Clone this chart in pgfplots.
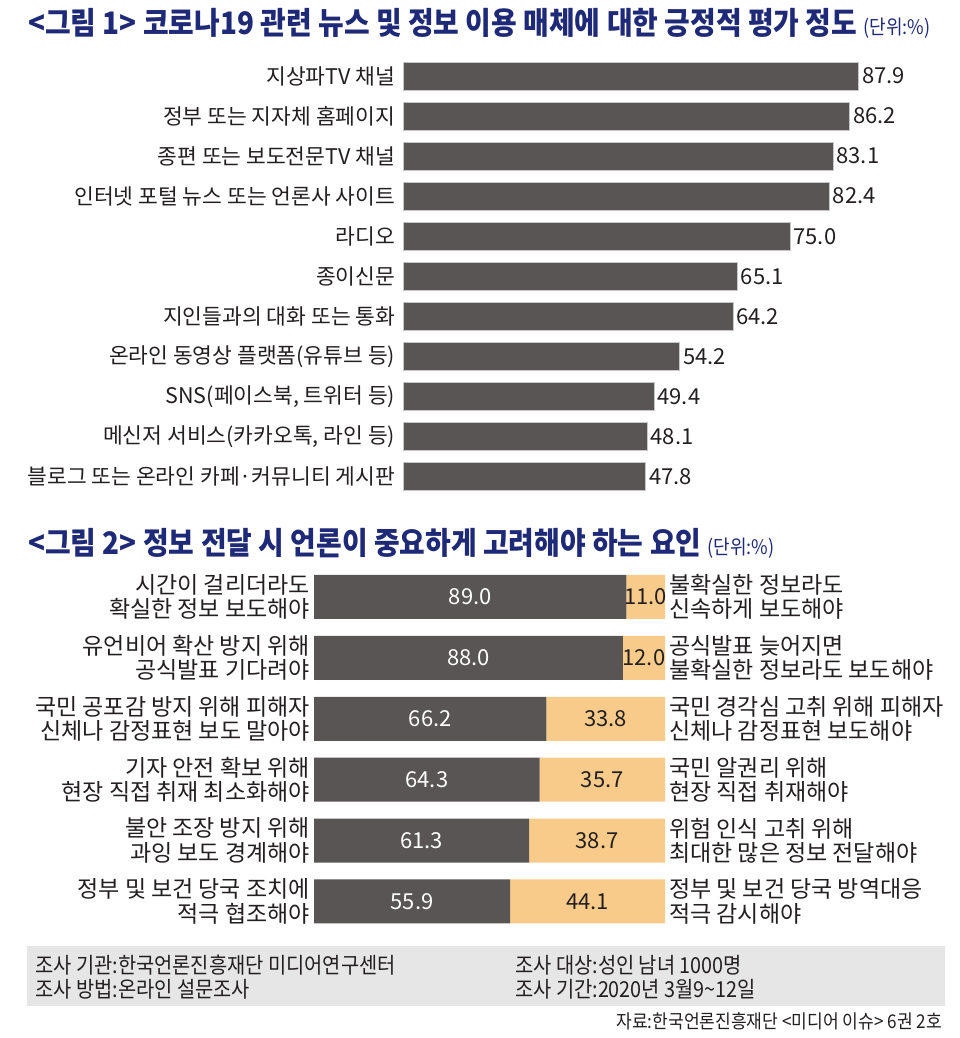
\documentclass[border=0pt]{standalone}
\usepackage{pgfplots}
\usepackage{pgfplotstable}
\pgfplotsset{compat=1.18}
\usepackage{fontspec}
\setmainfont{Noto Sans CJK KR}
\newfontfamily\condfont[FakeStretch=0.9]{Noto Sans CJK KR}
\definecolor{navy}{HTML}{1E2A78}
\definecolor{darkbar}{HTML}{595555}
\definecolor{peach}{HTML}{F8CB8B}
\definecolor{boxgray}{HTML}{E6E6E6}
\definecolor{txt}{HTML}{231F20}

\pgfplotstableread{
i v
1 87.9
2 86.2
3 83.1
4 82.4
5 75.0
6 65.1
7 64.2
8 54.2
9 49.4
10 48.1
11 47.8
}\chartone

\pgfplotstableread{
i a b
1 89.0 11.0
2 88.0 12.0
3 66.2 33.8
4 64.3 35.7
5 61.3 38.7
6 55.9 44.1
}\charttwo

\begin{document}
\begin{tikzpicture}[x=1pt,y=1pt]
\path (0,0) rectangle (960,1038);

% Title 1
\node[anchor=base west, inner sep=0pt, text=navy] at (28,1003)
  {\condfont\bfseries\fontsize{31}{33}\selectfont <그림 1> 코로나19 관련 뉴스 및 정보 이용 매체에 대한 긍정적 평가 정도 {\mdseries\fontsize{20}{22}\selectfont (단위:\%)}};

\begin{axis}[
  at={(403pt,982pt)}, anchor=north west,
  scale only axis, width=520pt, height=440.5pt,
  xbar, bar width=28pt,
  xmin=2.1, xmax=100, ymin=0.5, ymax=11.5, y dir=reverse,
  axis line style={draw=none}, tick style={draw=none}, xtick=\empty,
  ytick={1,...,11},
  yticklabels={지상파TV 채널, 정부 또는 지자체 홈페이지, 종편 또는 보도전문TV 채널, 인터넷 포털 뉴스 또는 언론사 사이트, 라디오, 종이신문, 지인들과의 대화 또는 통화, 온라인 동영상 플랫폼(유튜브 등), {SNS(페이스북, 트위터 등)}, {메신저 서비스(카카오톡, 라인 등)}, 블로그 또는 온라인 카페·커뮤니티 게시판},
  yticklabel style={font=\fontsize{21.5}{23}\selectfont, text=txt},
  nodes near coords, point meta=explicit symbolic,
  nodes near coords style={anchor=west, font=\fontsize{22}{24}\selectfont, text=txt, inner sep=0pt, xshift=3pt},
]
\addplot[fill=darkbar, draw=black!22, line width=0.6pt] table[x=v, y=i, meta=v] {\chartone};
\end{axis}

% Title 2
\node[anchor=base west, inner sep=0pt, text=navy] at (28,483)
  {\condfont\bfseries\fontsize{31}{33}\selectfont <그림 2> 정보 전달 시 언론이 중요하게 고려해야 하는 요인 {\mdseries\fontsize{20}{22}\selectfont (단위:\%)}};

\begin{axis}[
  at={(314pt,471.45pt)}, anchor=north west,
  scale only axis, width=351pt, height=365.4pt,
  xbar stacked, bar width=44pt,
  xmin=0, xmax=100, ymin=0.5, ymax=6.5, y dir=reverse,
  axis line style={draw=none}, tick style={draw=none}, xtick=\empty,
  ytick={1,...,6},
  yticklabels={{시간이 걸리더라도\\확실한 정보 보도해야}, {유언비어 확산 방지 위해\\공식발표 기다려야}, {국민 공포감 방지 위해 피해자\\신체나 감정표현 보도 말아야}, {기자 안전 확보 위해\\현장 직접 취재 최소화해야}, {불안 조장 방지 위해\\과잉 보도 경계해야}, {정부 및 보건 당국 조치에\\적극 협조해야}},
  yticklabel style={font=\fontsize{23}{24.5}\selectfont, text=txt, align=right, inner sep=0pt, xshift=-4pt},
]
\addplot[fill=darkbar, draw=none] table[x=a, y=i] {\charttwo};
\addplot[fill=peach, draw=none] table[x=b, y=i] {\charttwo};
\end{axis}

\begin{axis}[
  at={(314pt,471.45pt)}, anchor=north west,
  scale only axis, width=351pt, height=365.4pt,
  xmin=0, xmax=100, ymin=0.5, ymax=6.5, y dir=reverse,
  axis line style={draw=none}, tick style={draw=none}, xtick=\empty,
  yticklabel pos=right,
  ytick={1,...,6},
  yticklabels={{불확실한 정보라도\\신속하게 보도해야}, {공식발표 늦어지면\\불확실한 정보라도 보도해야}, {국민 경각심 고취 위해 피해자\\신체나 감정표현 보도해야}, {국민 알권리 위해\\현장 직접 취재해야}, {위험 인식 고취 위해\\최대한 많은 정보 전달해야}, {정부 및 보건 당국 방역대응\\적극 감시해야}},
  yticklabel style={font=\fontsize{23}{24.5}\selectfont, text=txt, align=left, inner sep=0pt, xshift=4pt},
  clip=false,
]
\addplot[draw=none, mark=none, nodes near coords, point meta=explicit symbolic,
  nodes near coords style={anchor=center, inner sep=0pt, text=white, font=\fontsize{22}{24}\selectfont}]
  table[x expr=\thisrow{a}/2, y=i, meta=a] {\charttwo};
\addplot[draw=none, mark=none, nodes near coords, point meta=explicit symbolic,
  nodes near coords style={anchor=center, inner sep=0pt, text=txt, font=\fontsize{22}{24}\selectfont}]
  table[x expr=\thisrow{a}+\thisrow{b}/2, y=i, meta=b] {\charttwo};
\end{axis}

% Footer
\fill[boxgray] (27,32) rectangle (945,92);
\begin{scope}[every node/.style={anchor=base west, inner sep=0pt, text=txt, font=\condfont\fontsize{22}{24}\selectfont}]
\node at (35,64.5) {조사 기관:한국언론진흥재단 미디어연구센터};
\node at (35,40.5) {조사 방법:온라인 설문조사};
\node at (515,64.5) {조사 대상:성인 남녀 1000명};
\node at (515,40.5) {조사 기간:2020년 3월9\textasciitilde12일};
\end{scope}
\node[anchor=base east, inner sep=0pt, text=txt, font=\condfont\fontsize{19}{21}\selectfont] at (942,9.5) {자료:한국언론진흥재단 <미디어 이슈> 6권 2호};
\end{tikzpicture}
\end{document}
